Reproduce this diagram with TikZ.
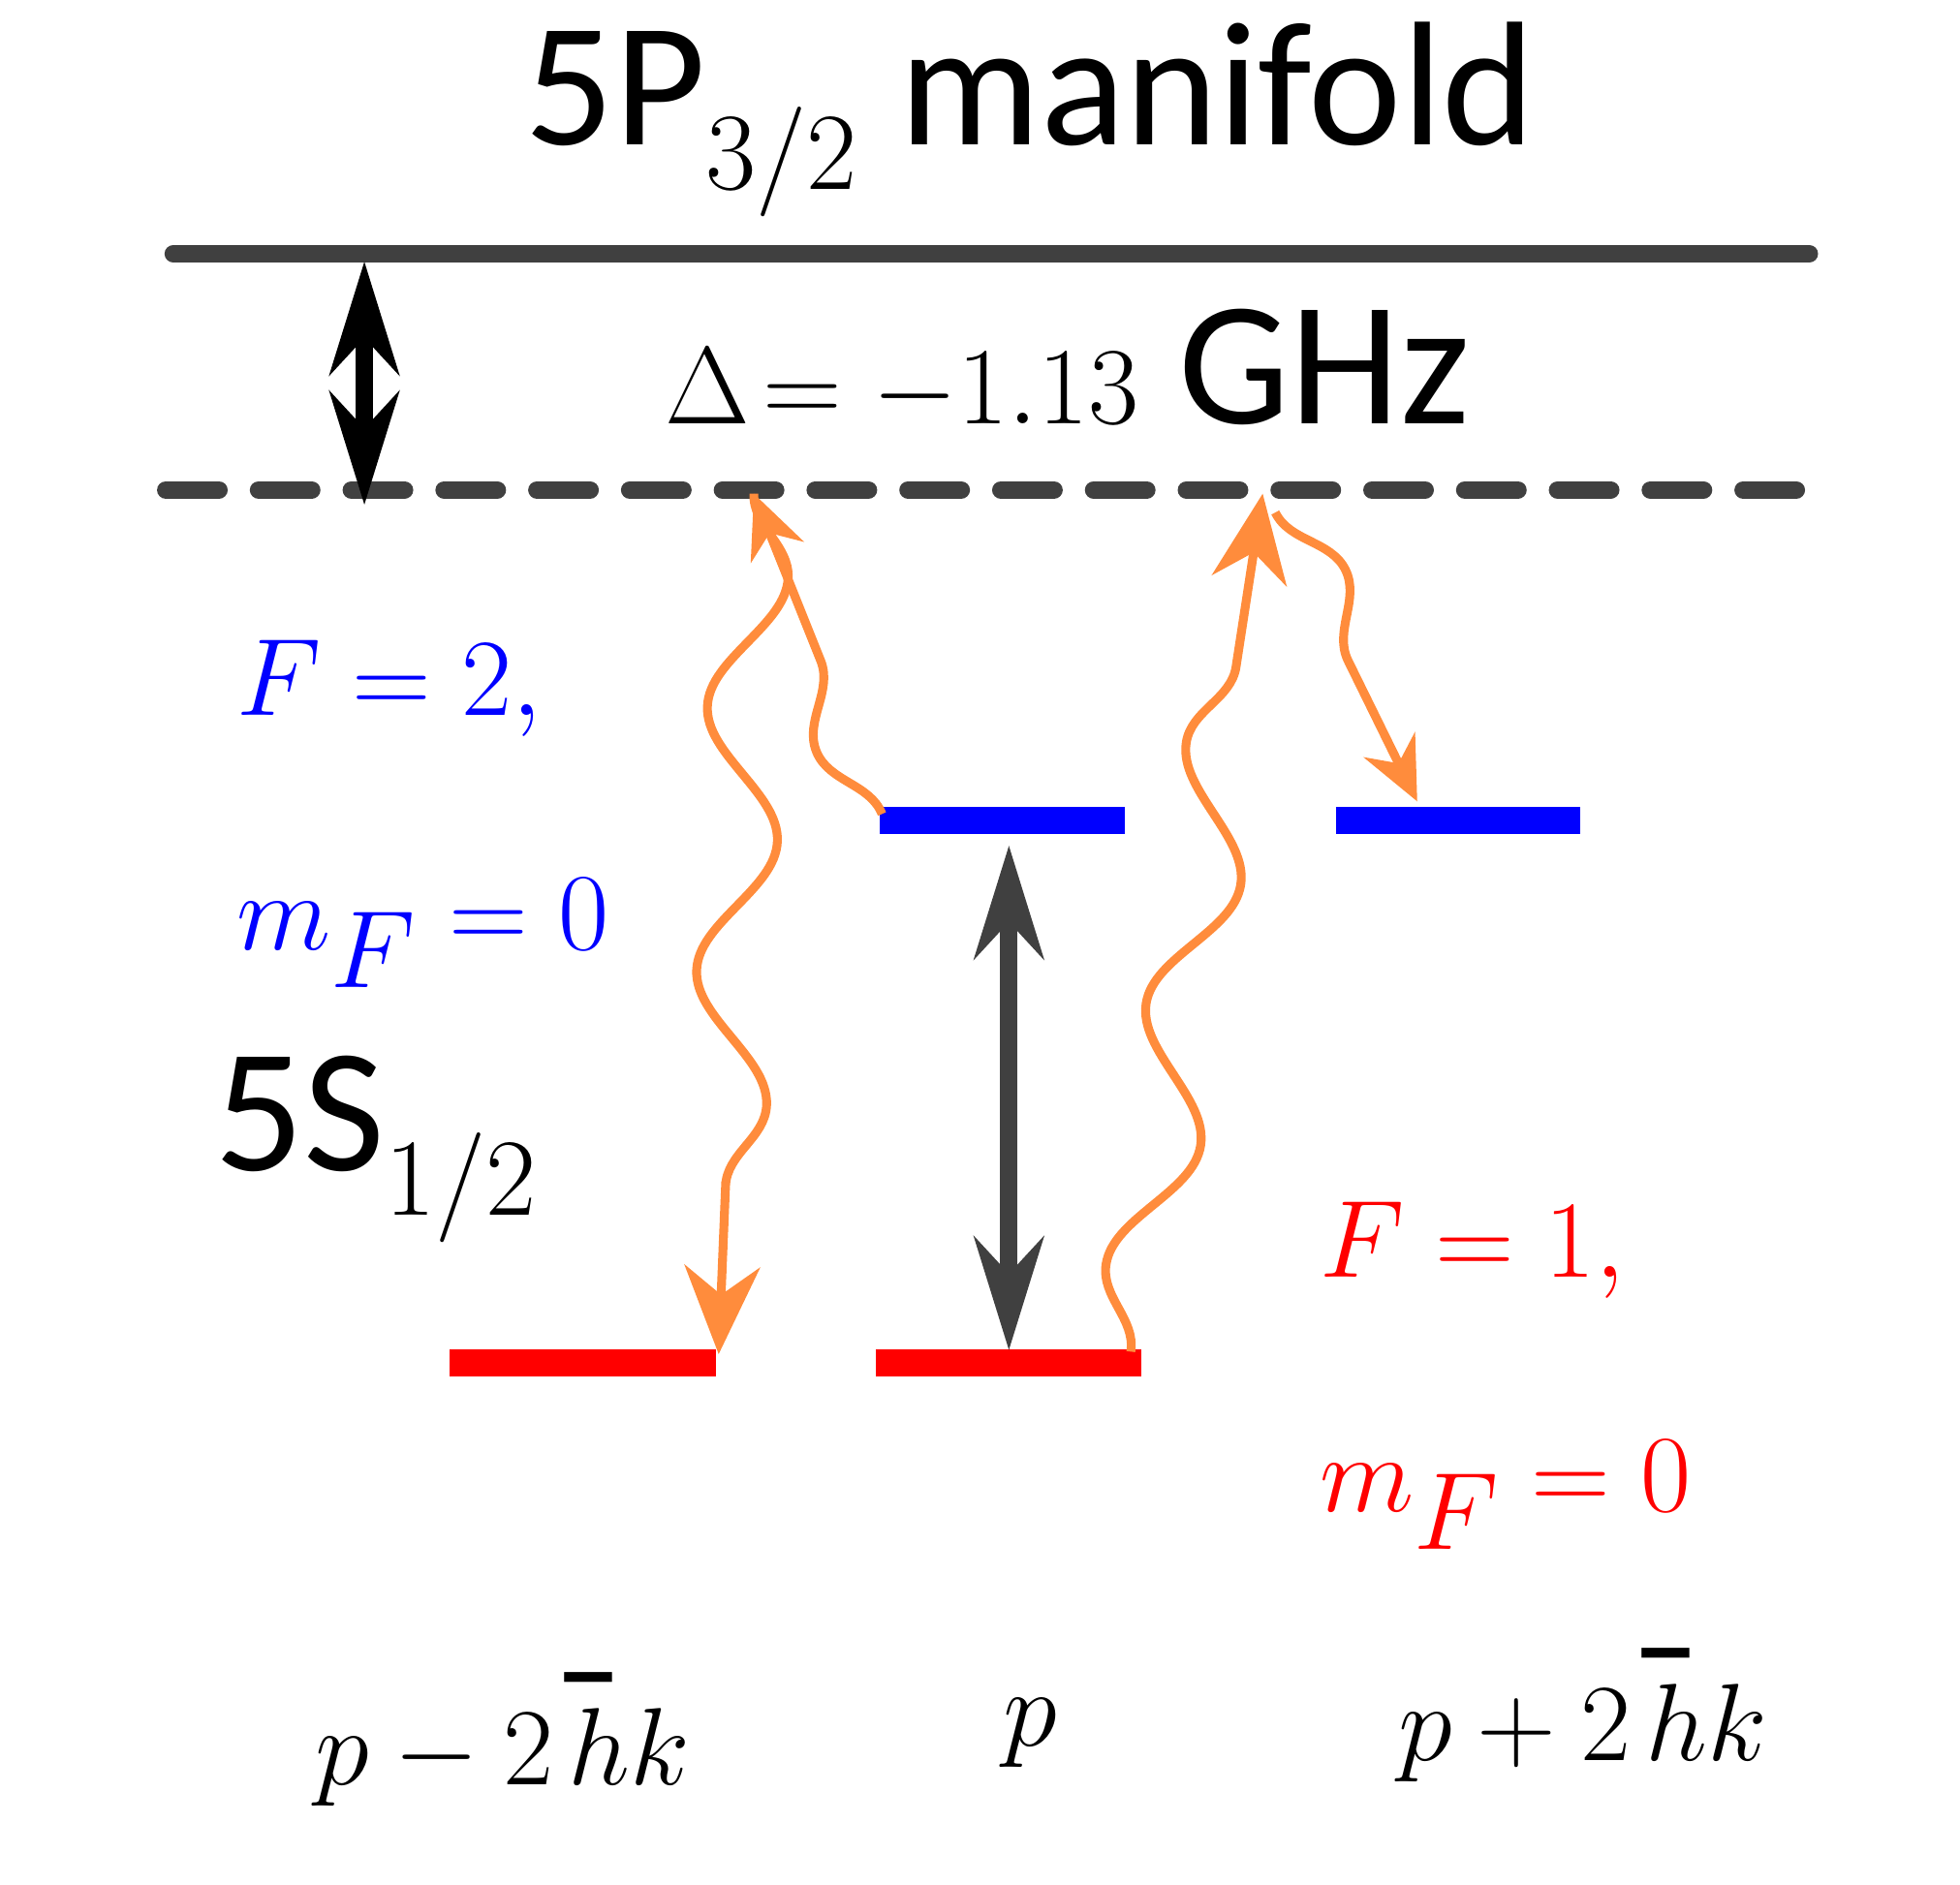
\documentclass[tikz,border=0pt]{standalone}
\usepackage{fontspec}
\setmainfont{Carlito}
\usepackage{tikz}
\usetikzlibrary{arrows.meta}
\usetikzlibrary{decorations.pathmorphing}
\definecolor{photon}{RGB}{255,140,60}
\definecolor{dgray}{RGB}{64,64,64}

\begin{document}
\begin{tikzpicture}[x=0.01cm, y=-0.01cm, >=Stealth,
    level/.style = {line width=0.22cm},
    wave/.style = {photon, line width=2pt, decorate,
        decoration={snake, amplitude=0.3cm, segment length=2.1cm, post length=0.6cm}},
    lbl/.style = {font=\fontsize{40}{46}\selectfont, inner sep=0pt}]
    \useasboundingbox (0,0) rectangle (1560,1500);
    % Levels

    \draw[dgray, line width=4pt, line cap=round] (138,202) -- (1440,202);
    \draw[dgray, line width=4pt, dash pattern=on 12pt off 9pt, line cap=round] (132,390) -- (1440,390);
    \draw[level, blue] (700,653) -- (895,653);
    \draw[level, blue] (1063,653) -- (1258,653);
    \draw[level, red] (358,1085) -- (570,1085);
    \draw[level, red] (697,1085) -- (908,1085);

    \coordinate (v1) at (600,393);
    \coordinate (v2) at (1005,393);
    \coordinate (g1) at (572,1078);
    \coordinate (g2) at (900,1076);
    \coordinate (e1) at (702,648);
    \coordinate (e2) at (1015,408);
    \coordinate (e3) at (1128,638);

    % Labels

    \node[lbl] (top) at (820,95) {5P$_{3/2}$ manifold};
    \node[lbl] (det) at (850,295) {$\Delta\!=-1.13$ GHz};
    \node[lbl, blue, align=left, anchor=west] (up) at (188,648)
        {$F=2,$\\[0.25cm]$m_F=0$};
    \node[lbl, anchor=west] (gs) at (170,915) {5S$_{1/2}$};
    \node[lbl, red, align=left, anchor=west] (lo) at (1050,1095)
        {$F=1,$\\[0.25cm]$m_F=0$};
    \node[lbl] (m) at (400,1385) {$p-2\hbar k$};
    \node[lbl] (c) at (820,1380) {$p$};
    \node[lbl] (pl) at (1260,1365) {$p+2\hbar k$};

    % Arrows

    \draw[{Stealth[length=0.9cm,width=0.55cm]}-{Stealth[length=0.9cm,width=0.55cm]}, line width=4pt]
        (290,208) -- (290,402);
    \draw[{Stealth[length=0.9cm,width=0.55cm]}-{Stealth[length=0.9cm,width=0.55cm]}, dgray, line width=4pt]
        (803,673) -- (803,1075);
    \draw[wave, -{Stealth[length=0.7cm,width=0.6cm]}] (v1) -- (g1);
    \draw[wave, -{Stealth[length=0.5cm,width=0.45cm]}] (e1) -- (v1);
    \draw[wave, -{Stealth[length=0.7cm,width=0.6cm]}] (g2) -- (v2);
    \draw[wave, -{Stealth[length=0.5cm,width=0.45cm]}] (e2) -- (e3);

\end{tikzpicture}
\end{document}
